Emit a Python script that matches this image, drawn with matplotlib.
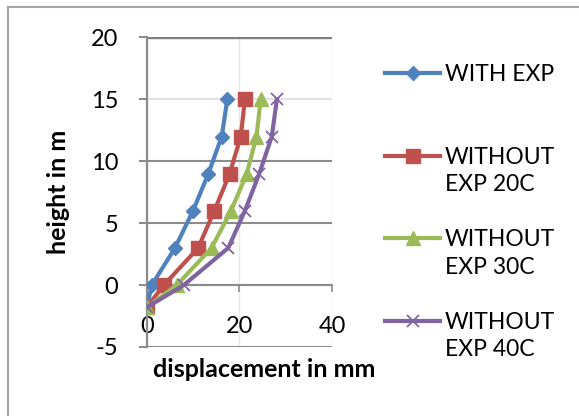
"""Displacement vs height for the four expansion cases (Excel-style chart)."""

import matplotlib
matplotlib.use("Agg")
import matplotlib.pyplot as plt
from matplotlib.lines import Line2D
from matplotlib.patches import Rectangle

plt.rcParams["font.family"] = ["Lato", "DejaVu Sans"]
plt.rcParams["axes.unicode_minus"] = False

# --- data ------------------------------------------------------------------
HEIGHTS = [-1.8, 0, 3, 6, 9, 12, 15]                  # m
WITH_EXP = [0, 1.1, 6.1, 10.0, 13.3, 16.2, 17.4]       # mm
WITHOUT_20C = [0, 3.7, 11.1, 14.6, 17.9, 20.3, 21.2]
WITHOUT_30C = [0, 6.5, 14.0, 18.2, 21.6, 23.7, 24.6]
WITHOUT_40C = [0, 8.0, 17.6, 21.2, 24.3, 27.0, 28.1]

SERIES_NAMES = ["WITH EXP", "WITHOUT\nEXP 20C", "WITHOUT\nEXP 30C", "WITHOUT\nEXP 40C"]
X_TICKS = [0, 20, 40]
Y_TICKS = [-5, 0, 5, 10, 15, 20]

# Excel 2007 default palette
STYLES = [
    dict(color="#4F81BD", marker="D", ms=7.5),
    dict(color="#C0504D", marker="s", ms=10.5),
    dict(color="#9BBB59", marker="^", ms=10),
    dict(color="#8064A2", marker="x", ms=9, mew=1.3),
]
GRID = "#8C8C8C"
FS_TICK = 17
FS_LABEL = 18
FS_LEG = 16.5


def main() -> None:
    fig = plt.figure(figsize=(5.79, 4.16), dpi=100)
    ax = fig.add_axes([0.2534, 0.1659, 0.32, 0.744])

    series = [WITH_EXP, WITHOUT_20C, WITHOUT_30C, WITHOUT_40C]
    lines = []
    for xs, st in zip(series, STYLES):
        (ln,) = ax.plot(xs, HEIGHTS, lw=3, zorder=3, **st)
        lines.append(ln)

    ax.set_xlim(X_TICKS[0], X_TICKS[-1])
    ax.set_ylim(Y_TICKS[0], Y_TICKS[-1])
    ax.set_xticks(X_TICKS)
    ax.set_yticks(Y_TICKS)

    # horizontal gridlines, the one at 15 is washed out in the original
    ax.yaxis.grid(True, color=GRID, lw=1.5)
    ax.xaxis.grid(True, color="#E8E8E8", lw=1.0)
    for val, gl in zip(Y_TICKS, ax.get_ygridlines()):
        if val == 15:
            gl.set_color("#E2E2E2")
        if val == 20:
            gl.set_linewidth(2.4)
            gl.set_color("#7F7F7F")
    ax.set_axisbelow(True)

    for side in ("top", "right"):
        ax.spines[side].set_visible(False)
    ax.spines["left"].set_color(GRID)
    ax.spines["left"].set_linewidth(1.6)
    ax.spines["bottom"].set_position(("data", 0))
    ax.spines["bottom"].set_color(GRID)
    ax.spines["bottom"].set_linewidth(1.5)

    ax.tick_params(axis="y", direction="out", length=6, width=1.5, color=GRID,
                   pad=14.5, labelsize=FS_TICK)
    ax.tick_params(axis="x", direction="out", length=5, width=1.2, color=GRID,
                   pad=17.5, labelsize=FS_TICK)

    ax.set_xlabel("displacement in mm", fontsize=FS_LABEL, fontweight="bold",
                  va="center")
    ax.xaxis.set_label_coords(0.633, -0.074)
    ax.set_ylabel("height in m", fontsize=FS_LABEL, fontweight="bold", va="center")
    ax.yaxis.set_label_coords(-0.476, 0.5)

    # legend: handle sits on the first text line, blank rows for the gaps
    blank = Line2D([], [], linestyle="none")
    handles, labels = [], []
    for i, (ln, name) in enumerate(zip(lines, SERIES_NAMES)):
        parts = name.split("\n")
        handles.append(ln)
        labels.append(parts[0])
        if len(parts) > 1:
            handles.append(blank)
            labels.append(parts[1])
        if i == 0:
            handles += [blank, blank]
            labels += [" ", " "]
        elif i < len(lines) - 1:
            handles.append(blank)
            labels.append(" ")
    fig.legend(handles, labels, loc="upper left", bbox_to_anchor=(0.665, 0.846),
               frameon=False, fontsize=FS_LEG, borderpad=0, borderaxespad=0,
               handlelength=2.4, handletextpad=0.22, labelspacing=0.285,
               numpoints=1)

    # chart-area border (only left/top edges fall inside the crop)
    fig.patches.append(Rectangle((8 / 579, -0.1), 1.2, 1.083, fill=False,
                                 edgecolor="#A6A6A6", lw=1.5,
                                 transform=fig.transFigure, figure=fig))

    fig.savefig("out.png", dpi=100)


if __name__ == "__main__":
    main()
